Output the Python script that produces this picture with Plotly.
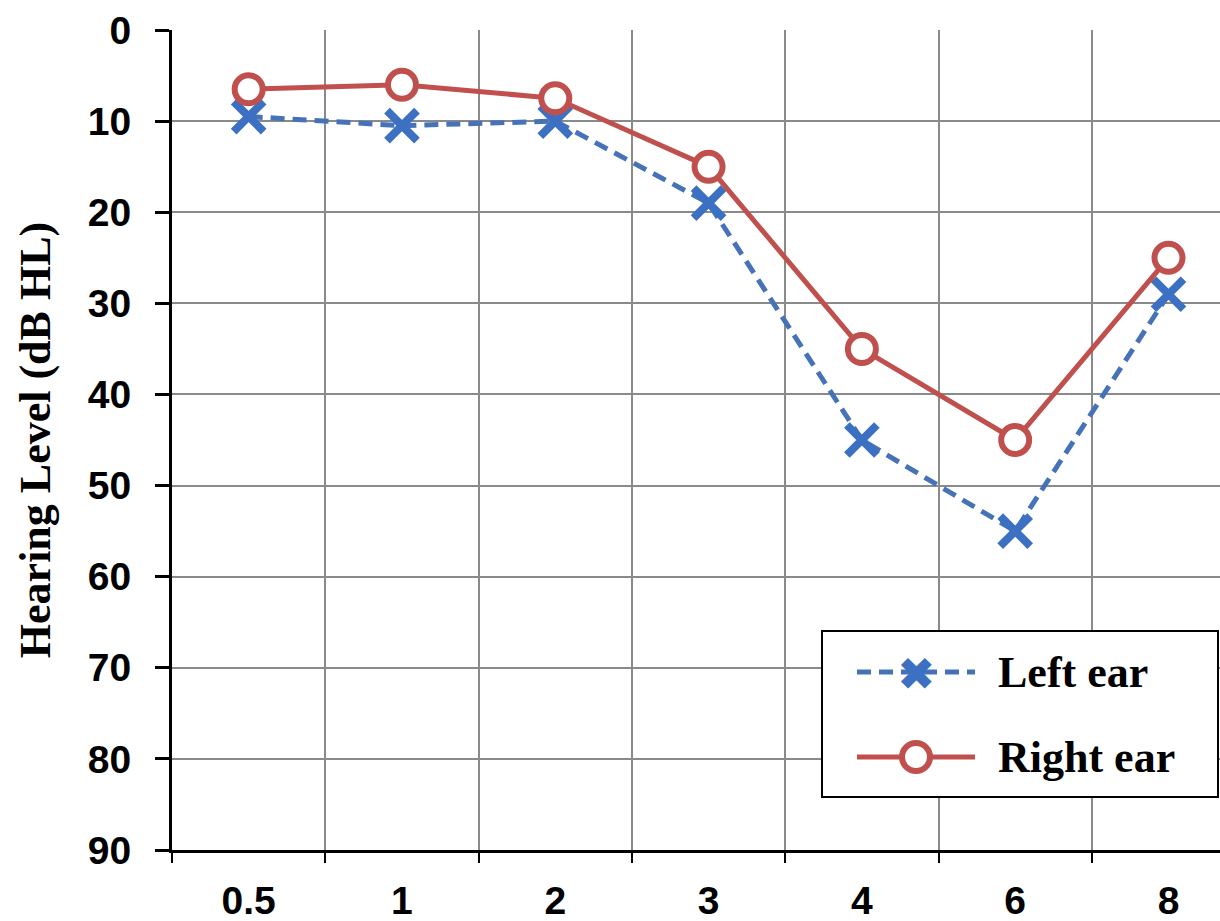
import plotly.graph_objects as go

freq_labels = ["0.5", "1", "2", "3", "4", "6", "8"]
left_ear = [9.5, 10.5, 10, 19, 45, 55, 29]
right_ear = [6.5, 6, 7.5, 15, 35, 45, 25]
y_ticks = [0, 10, 20, 30, 40, 50, 60, 70, 80, 90]
series_names = ["Left ear", "Right ear"]

xpos = list(range(len(freq_labels)))
blue = "#3b70c2"
blue_line = "#4673b8"
red = "#c0504d"

# plot area in pixels (for placing the legend box)
L, T, W, H = 172, 30, 1048, 820
def px(xp):
    return (xp - L) / W
def py(yp):
    return (T + H - yp) / H

fig = go.Figure()
fig.add_trace(go.Scatter(
    x=xpos, y=left_ear, name=series_names[0], mode="lines+markers",
    line=dict(color=blue_line, width=5, dash="14px,8px"),
    marker=dict(symbol="x-thin", size=30, line=dict(color=blue, width=8), color=blue),
))
fig.add_trace(go.Scatter(
    x=xpos, y=right_ear, name=series_names[1], mode="lines+markers",
    line=dict(color=red, width=5),
    marker=dict(symbol="circle", size=28, color="white", line=dict(color=red, width=6)),
))

# custom legend (box, key lines, key markers, labels)
shapes = [
    dict(type="rect", xref="paper", yref="paper", x0=px(822), x1=px(1218), y0=py(797), y1=py(631),
         line=dict(color="black", width=2), fillcolor="white", layer="above"),
    dict(type="line", xref="paper", yref="paper", x0=px(857), x1=px(975), y0=py(672), y1=py(672),
         line=dict(color=blue_line, width=5, dash="14px,8px"), layer="above"),
    dict(type="line", xref="paper", yref="paper", x0=px(857), x1=px(975), y0=py(757), y1=py(757),
         line=dict(color=red, width=5), layer="above"),
]
fig.update_layout(shapes=shapes)
fig.add_annotation(xref="paper", yref="paper", x=px(916), y=py(672), text="✖", showarrow=False,
                   font=dict(size=46, color=blue), xanchor="center", yanchor="middle")
fig.add_shape(type="circle", xref="paper", yref="paper", xsizemode="pixel", ysizemode="pixel",
              xanchor=px(916), yanchor=py(757), x0=-14, x1=14, y0=-14, y1=14,
              line=dict(color=red, width=6), fillcolor="white", layer="above")
for name, yy in zip(series_names, [672, 757]):
    fig.add_annotation(xref="paper", yref="paper", x=px(996), y=py(yy), text=name, showarrow=False,
                       xanchor="left", yanchor="middle",
                       font=dict(family="Liberation Serif", size=44, color="black", weight="bold"))

fig.update_layout(
    width=1220, height=921,
    margin=dict(l=L, r=0, t=T, b=921 - T - H),
    plot_bgcolor="white", paper_bgcolor="white",
    showlegend=False,
    xaxis=dict(
        range=[-0.5, 6.336], tickmode="array", tickvals=xpos, ticktext=freq_labels,
        ticks="", showgrid=False, zeroline=False,
        showline=True, linecolor="black", linewidth=3,
        tickfont=dict(family="Liberation Sans", size=39, color="black", weight="bold"),
        ticklabelstandoff=14, automargin=False,
        minor=dict(tickmode="array", tickvals=[-0.5, 0.5, 1.5, 2.5, 3.5, 4.5, 5.5, 6.5],
                   showgrid=True, gridcolor="#8a8a8a", gridwidth=2,
                   ticks="outside", ticklen=10, tickwidth=2, tickcolor="black"),
    ),
    yaxis=dict(
        range=[90, 0], tickmode="array", tickvals=y_ticks,
        ticks="outside", ticklen=14, tickwidth=3, tickcolor="black",
        showgrid=True, gridcolor="#8a8a8a", gridwidth=2, zeroline=False,
        showline=True, linecolor="black", linewidth=3,
        tickfont=dict(family="Liberation Sans", size=39, color="black", weight="bold"),
        ticklabelstandoff=16,
        title=dict(text="Hearing Level (dB HL)", standoff=24,
                   font=dict(family="Liberation Serif", size=44, color="black", weight="bold")),
        automargin=False,
    ),
)

fig.write_html("out.html", config={"displayModeBar": False},
               post_script="document.body.style.margin='0';")
